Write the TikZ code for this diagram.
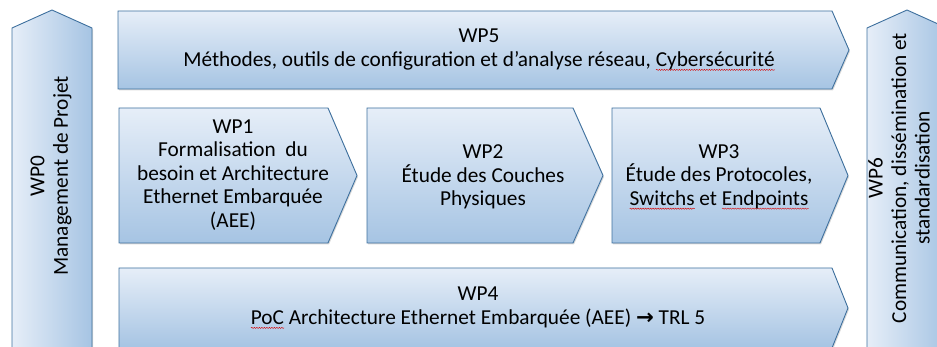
\documentclass[tikz,border=0pt]{standalone}
\usepackage{fontspec}
\setmainfont{Carlito}
\newfontfamily\arrowfont{DejaVu Sans}
\usetikzlibrary{shadows,decorations.pathmorphing}

\definecolor{wpline}{RGB}{62,112,158}
\definecolor{wplight}{RGB}{230,238,248}
\definecolor{wpdark}{RGB}{166,196,227}

% red wavy mark under words
\newsavebox\spellbox
\newcommand\spell[1]{\sbox\spellbox{#1}\rlap{\tikz[baseline=0pt]\draw[red!85!black,line width=0.4pt,decorate,decoration={snake,amplitude=0.6pt,segment length=2.5pt}] (0pt,-3.5pt) -- (\wd\spellbox,-3.5pt);}\usebox\spellbox}

\tikzset{
  wpshadow/.style={drop shadow={opacity=0.3,shadow xshift=1pt,shadow yshift=-1.5pt}},
  wp/.style={draw=wpline,line width=0.9pt,top color=wplight,bottom color=wpdark,wpshadow},
  wpv/.style={draw=wpline,line width=0.9pt,left color=wplight,right color=wpdark,wpshadow},
  wptext/.style={align=center,inner sep=0pt,font=\fontsize{21.3}{23.4}\selectfont}
}

\begin{document}
\begin{tikzpicture}[x=1pt,y=-1pt]
\useasboundingbox (0,0) rectangle (937,347);
\clip (0,0) rectangle (937,347);

% side work packages
\draw[wpv] (12,360) -- ++(0,-332) -- ++(40,-18) -- ++(40,18) -- ++(0,332) -- cycle;
\node[wptext,rotate=90] (wp0) at (51,176) {WP0\\Management de Projet};

\draw[wpv] (867,360) -- ++(0,-332) -- ++(40,-18) -- ++(40,18) -- ++(0,332) -- cycle;
\node[wptext,rotate=90] (wp6) at (899,178) {WP6\\Communication, dissémination et\\standardisation};

% transverse work packages
\draw[wp] (118,11) -- ++(714,0) -- ++(17,39) -- ++(-17,39) -- ++(-714,0) -- cycle;
\node[wptext] (wp5) at (479,50) {WP5\\Méthodes, outils de configuration et d’analyse réseau, \spell{Cybersécurité}};

\draw[wp] (119,268) -- ++(713,0) -- ++(16,40) -- ++(-16,40) -- ++(-713,0) -- cycle;
\node[wptext] (wp4) at (478,308) {WP4\\\spell{PoC} Architecture Ethernet Embarquée (AEE) {\arrowfont\bfseries →} TRL 5};

% technical work packages
\draw[wp] (119,108) -- ++(209,0) -- ++(29,67.5) -- ++(-29,67.5) -- ++(-209,0) -- cycle;
\node[wptext] (wp1) at (233,175) {WP1\\Formalisation~ du\\besoin et Architecture\\Ethernet Embarquée\\(AEE)};

\draw[wp] (367,108) -- ++(206,0) -- ++(30,67.5) -- ++(-30,67.5) -- ++(-206,0) -- cycle;
\node[wptext] (wp2) at (483,177) {WP2\\Étude des Couches\\Physiques};

\draw[wp] (612,108) -- ++(208,0) -- ++(28,67.5) -- ++(-28,67.5) -- ++(-208,0) -- cycle;
\node[wptext] (wp3) at (719,177) {WP3\\Étude des Protocoles,\\\spell{Switchs} et \spell{Endpoints}};
\end{tikzpicture}
\end{document}
